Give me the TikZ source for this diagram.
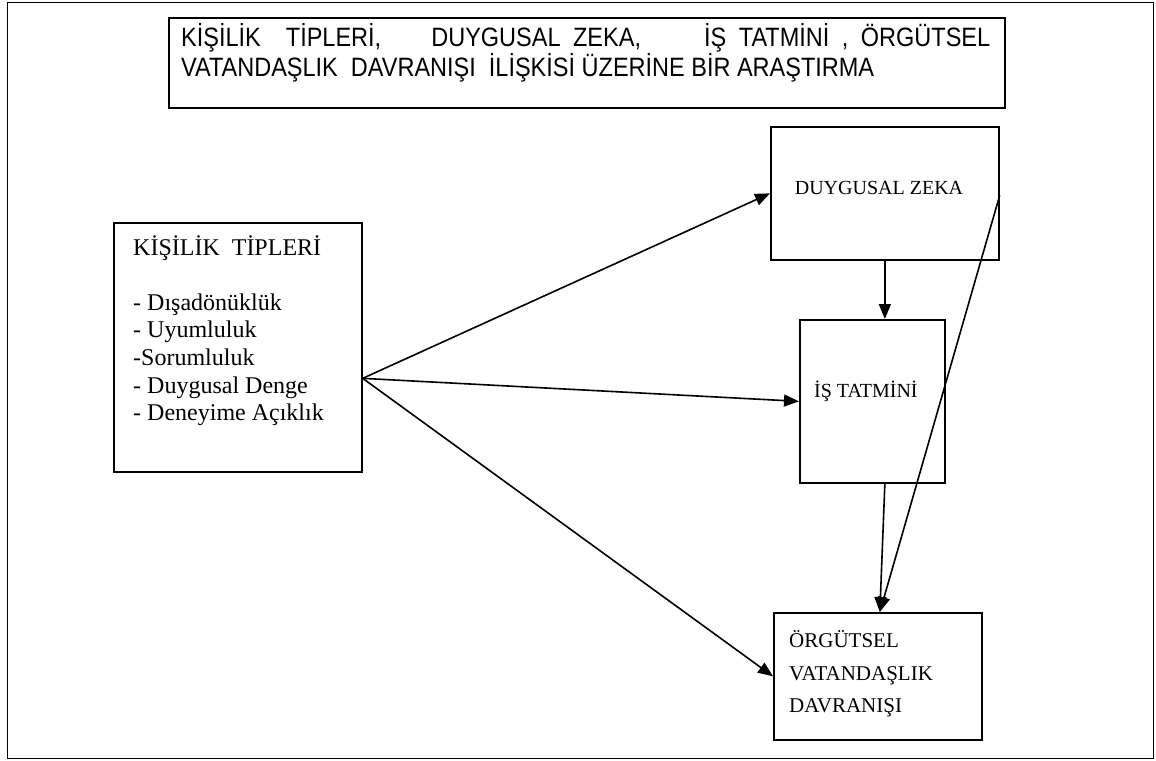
\documentclass[tikz,border=0pt]{standalone}
\usepackage{fontspec}
\setmainfont{Liberation Serif}
\newfontfamily\arialf{Liberation Sans}
\usetikzlibrary{arrows.meta,calc}

% word gap: natural width plus a share of the line's leftover space
\newcommand{\tgap}[2]{\hspace{#1pt plus #2fil}}

\begin{document}
\begin{tikzpicture}[x=1pt,y=-1pt,
  box/.style={draw, line width=1.7pt, inner sep=0pt, anchor=north west},
  conn/.style={line width=1.6pt, -{Triangle[length=15pt,width=12pt]}},
  lbl/.style={inner sep=0pt, align=left},
  titlefont/.style={font=\arialf\fontsize{23.5}{27}\selectfont},
  boxfont/.style={font=\fontsize{20}{24}\selectfont},
]
\useasboundingbox (0,0) rectangle (1156,760);

% outer frame
\node[box, line width=1.3pt, minimum width=1146pt, minimum height=756pt] (page) at (7,2) {};

% title; the first line runs out to the right margin
\node[box, minimum width=836pt, minimum height=90pt] (titlebox) at (168,17) {};
\node[lbl, anchor=base west, titlefont] (titleone) at (181,47)
  {\scalebox{1}[1.13]{\makebox[809pt][s]{KİŞİLİK\tgap{13}{1}TİPLERİ,\tgap{26}{2}DUYGUSAL\tgap{6.5}{0.5}ZEKA,\tgap{33}{2.5}İŞ\tgap{6.5}{0.5}TATMİNİ\tgap{6.5}{0.5},\tgap{6.5}{0.5}ÖRGÜTSEL}}};
\node[lbl, anchor=base west, titlefont] (titletwo) at (181,76)
  {\scalebox{1}[1.13]{VATANDAŞLIK\ \ DAVRANIŞI\ \ İLİŞKİSİ ÜZERİNE BİR ARAŞTIRMA}};

% boxes
\node[box, minimum width=248pt, minimum height=249pt] (kt) at (113,222) {};
\node[lbl, anchor=north west, font=\fontsize{24}{27.6}\selectfont] (kttext) at (133,235)
  {KİŞİLİK\ \ TİPLERİ\\[27.6pt]
   - Dışadönüklük\\
   - Uyumluluk\\
   -Sorumluluk\\
   - Duygusal Denge\\
   - Deneyime Açıklık};

\node[box, minimum width=228pt, minimum height=133pt] (dz) at (770,126) {};
\node[lbl, anchor=base, boxfont] (dztext) at (879,194.5) {DUYGUSAL ZEKA};

\node[box, minimum width=145pt, minimum height=163pt] (is) at (799,319) {};
\node[lbl, anchor=base west, boxfont] (istext) at (814,397) {İŞ TATMİNİ};

\node[box, minimum width=208pt, minimum height=127pt] (ovd) at (773,612) {};
\node[lbl, anchor=north west, font=\fontsize{21}{32.5}\selectfont] (ovdtext) at (789,630.5)
  {ÖRGÜTSEL\\VATANDAŞLIK\\DAVRANIŞI};

% connectors
\coordinate (src) at ($(kt.east)+(0,31)$);
\draw[conn] (src) -- (dz.west);
\draw[conn] (src) -- (is.west);
\draw[conn] (src) -- (ovd.west);
\draw[conn] (dz.south) -- (dz.south |- is.north);
\coordinate (ovdtop) at ($(ovd.north)+(2,0)$);
\draw[conn] (is.south -| dz.south) -- (ovdtop);
\draw[conn] ($(dz.east)+(0,2)$) -- (ovdtop);
\end{tikzpicture}
\end{document}
